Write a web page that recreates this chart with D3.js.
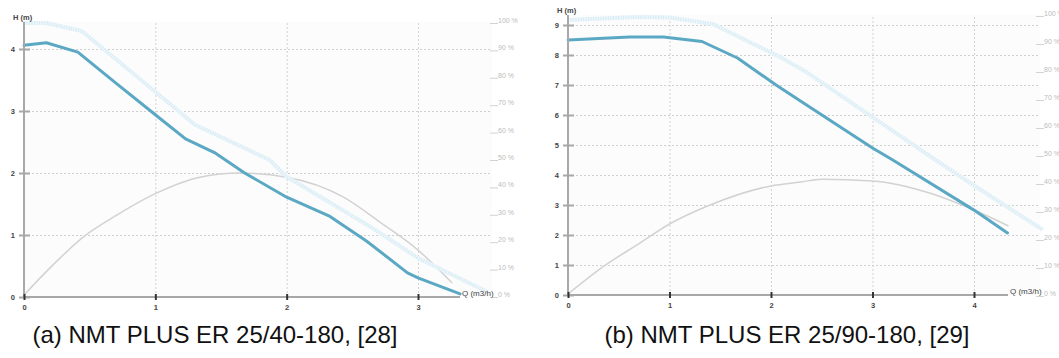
<!DOCTYPE html>
<html>
<head>
<meta charset="utf-8">
<script src="https://cdn.jsdelivr.net/npm/d3@7"></script>
<style>
  body { margin: 0; background: #fff; }
  svg { display: block; font-family: "Liberation Sans", Arial, sans-serif; }
</style>
</head>
<body>
<svg id="chart" width="1059" height="358"></svg>
<script>
// ---- data (a) NMT PLUS ER 25/40-180 ----
var qA_curve = [0, 0.17, 0.41, 0.7, 1.0, 1.23, 1.45, 1.68, 2.0, 2.33, 2.61, 2.92, 3.0, 3.32];
var hA_curve = [4.06, 4.1, 3.95, 3.45, 2.94, 2.55, 2.33, 2.0, 1.61, 1.3, 0.9, 0.39, 0.31, 0.05];
var qA_max = [0, 0.17, 0.44, 1.0, 1.3, 1.87, 2.0, 2.64, 3.0, 3.53];
var hA_max = [4.42, 4.42, 4.29, 3.31, 2.78, 2.21, 1.94, 1.13, 0.63, 0.08];
var qA_eff = [0, 0.2, 0.46, 0.7, 1.0, 1.34, 1.65, 2.0, 2.43, 2.71, 3.0, 3.26];
var pA_eff = [0, 10, 21.5, 29, 37, 43, 44.5, 43, 35.8, 26.6, 16.4, 4.4];
var hTicksA = [0, 1, 2, 3, 4];
var qTicksA = [0, 1, 2, 3];

// ---- data (b) NMT PLUS ER 25/90-180 ----
var qB_curve = [0, 0.3, 0.61, 0.94, 1.32, 1.67, 2.05, 2.29, 3.0, 3.2, 4.0, 4.33];
var hB_curve = [8.5, 8.55, 8.6, 8.6, 8.45, 7.9, 7.0, 6.47, 4.9, 4.5, 2.83, 2.07];
var qB_max = [0, 0.35, 0.71, 1.0, 1.43, 2.09, 2.35, 3.0, 3.6, 4.0, 4.68];
var hB_max = [9.17, 9.22, 9.27, 9.25, 9.03, 7.93, 7.43, 5.93, 4.55, 3.65, 2.17];
var qB_eff = [0, 0.34, 0.7, 1.0, 1.4, 2.0, 2.29, 2.5, 3.0, 3.57, 4.0, 4.34];
var pB_eff = [0, 9.6, 18, 25, 31.8, 38.6, 40, 41, 40.4, 36, 30, 24.3];
var hTicksB = [0, 1, 2, 3, 4, 5, 6, 7, 8, 9];
var qTicksB = [0, 1, 2, 3, 4];

var pctTicks = [0, 10, 20, 30, 40, 50, 60, 70, 80, 90, 100];
var captions = ["(a) NMT PLUS ER 25/40-180, [28]", "(b) NMT PLUS ER 25/90-180, [29]"];

var svg = d3.select("#chart");

function drawPanel(p) {
    var g = svg.append("g");

    var x = d3.scaleLinear().domain([0, p.qMax]).range([p.x0, p.x1]);
    var y = d3.scaleLinear().domain([0, p.hMax]).range([p.y0, p.y1]);
    var yp = d3.scaleLinear().domain([0, 100]).range([p.y0 - p.pctShift, p.p100]);

    // plot background
    g.append("rect")
        .attr("x", p.x0).attr("y", p.top)
        .attr("width", p.gridRight - p.x0).attr("height", p.y0 - p.top)
        .attr("fill", "#fcfcfc");

    // horizontal grid
    g.append("g")
        .attr("transform", "translate(" + p.x0 + ",0)")
        .call(d3.axisLeft(y).tickValues(p.hTicks.slice(1)).tickSize(-(p.gridRight - p.x0)).tickFormat(""))
        .call(function (s) {
            s.select(".domain").remove();
            s.selectAll("line").attr("stroke", "#cfcfcf").attr("stroke-dasharray", "2,2");
        });

    // vertical grid
    g.append("g")
        .attr("transform", "translate(0," + p.y0 + ")")
        .call(d3.axisBottom(x).tickValues(p.qTicks.slice(1)).tickSize(-(p.y0 - p.top)).tickFormat(""))
        .call(function (s) {
            s.select(".domain").remove();
            s.selectAll("line").attr("stroke", "#d2d2d2").attr("stroke-dasharray", "2,2");
        });

    // right percent axis
    g.append("g")
        .attr("transform", "translate(" + p.pctX + ",0)")
        .call(d3.axisRight(yp).tickValues(pctTicks).tickSize(8).tickPadding(0)
            .tickFormat(function (d) { return d + " %"; }))
        .call(function (s) {
            s.select(".domain").remove();
            s.selectAll("line").attr("stroke", "#c8c8c8").attr("stroke-width", 0.8)
                .attr("transform", "translate(0,2)");
            s.selectAll("text").attr("fill", "#bbbbbb").attr("font-size", 7)
                .attr("font-family", "Liberation Sans, Arial, sans-serif").attr("dy", "0.2em");
        });

    var line = d3.line();

    // efficiency curve (percent)
    g.append("path")
        .datum(p.qEff.map(function (q, i) { return [x(q), yp(p.pEff[i])]; }))
        .attr("d", d3.line().curve(d3.curveMonotoneX))
        .attr("fill", "none").attr("stroke", "#d2d2d2").attr("stroke-width", 1.5);

    // max curve, light hatched
    var maxPts = p.qMaxC.map(function (q, i) { return [x(q), y(p.hMaxC[i])]; });
    g.append("path").datum(maxPts).attr("d", line)
        .attr("fill", "none").attr("stroke", "#edf6fa").attr("stroke-width", 4);
    g.append("path").datum(maxPts).attr("d", line)
        .attr("fill", "none").attr("stroke", "#d6ebf4").attr("stroke-width", 4)
        .attr("stroke-dasharray", "1,1.5");

    // main curve
    g.append("path")
        .datum(p.qC.map(function (q, i) { return [x(q), y(p.hC[i])]; }))
        .attr("d", line)
        .attr("fill", "none").attr("stroke", "#5ba8c4").attr("stroke-width", 3)
        .attr("stroke-linejoin", "round").attr("stroke-linecap", "round");

    // y axis
    g.append("line")
        .attr("x1", p.x0).attr("x2", p.x0).attr("y1", p.top).attr("y2", p.y0 + 1)
        .attr("stroke", "#a8a8a8").attr("stroke-width", 2);
    g.append("g")
        .attr("transform", "translate(" + p.x0 + ",0)")
        .call(d3.axisLeft(y).tickValues(p.hTicks).tickSize(4).tickPadding(5).tickFormat(d3.format("d")))
        .call(function (s) {
            s.select(".domain").remove();
            s.selectAll("line").attr("x2", 6).attr("x1", -5).attr("stroke", "#a8a8a8").attr("stroke-width", 2);
            s.selectAll("text").attr("fill", "#444").attr("font-size", 7.5).attr("font-weight", "bold")
                .attr("font-family", "Liberation Sans, Arial, sans-serif");
        });

    // x axis
    g.append("line")
        .attr("x1", p.x0).attr("x2", p.axisEnd).attr("y1", p.y0).attr("y2", p.y0)
        .attr("stroke", "#a8a8a8").attr("stroke-width", 2);
    g.append("g")
        .attr("transform", "translate(0," + p.y0 + ")")
        .call(d3.axisBottom(x).tickValues(p.qTicks).tickSize(3).tickPadding(5).tickFormat(d3.format("d")))
        .call(function (s) {
            s.select(".domain").remove();
            s.selectAll("line").attr("y1", -3).attr("y2", 3).attr("stroke", "#333").attr("stroke-width", 2);
            s.selectAll("text").attr("fill", "#444").attr("font-size", 7.5).attr("font-weight", "bold")
                .attr("font-family", "Liberation Sans, Arial, sans-serif");
        });

    // axis labels
    g.append("text")
        .attr("x", p.hLabelX).attr("y", p.top - 2)
        .attr("font-size", 7.5).attr("font-weight", "bold").attr("fill", "#444")
        .text("H (m)");
    g.append("text")
        .attr("x", p.axisEnd + 2).attr("y", p.y0 - 1)
        .attr("font-size", 8).attr("fill", "#444")
        .text("Q (m3/h)");

    // caption
    svg.append("text")
        .attr("x", p.capX).attr("y", 343)
        .attr("text-anchor", "middle")
        .attr("font-size", 24).attr("fill", "#111")
        .text(p.caption);
}

drawPanel({
    x0: 24, x1: 418, qMax: 3, y0: 297, y1: 49, hMax: 4, top: 22,
    pctShift: 2, p100: 21, pctX: 490, gridRight: 492, axisEnd: 460, hLabelX: 13,
    hTicks: hTicksA, qTicks: qTicksA,
    qC: qA_curve, hC: hA_curve, qMaxC: qA_max, hMaxC: hA_max, qEff: qA_eff, pEff: pA_eff,
    capX: 215, caption: captions[0]
});

drawPanel({
    x0: 568, x1: 974, qMax: 4, y0: 295, y1: 25, hMax: 9, top: 15,
    pctShift: 1, p100: 14, pctX: 1036, gridRight: 1040, axisEnd: 1008, hLabelX: 557,
    hTicks: hTicksB, qTicks: qTicksB,
    qC: qB_curve, hC: hB_curve, qMaxC: qB_max, hMaxC: hB_max, qEff: qB_eff, pEff: pB_eff,
    capX: 787, caption: captions[1]
});
</script>
</body>
</html>
